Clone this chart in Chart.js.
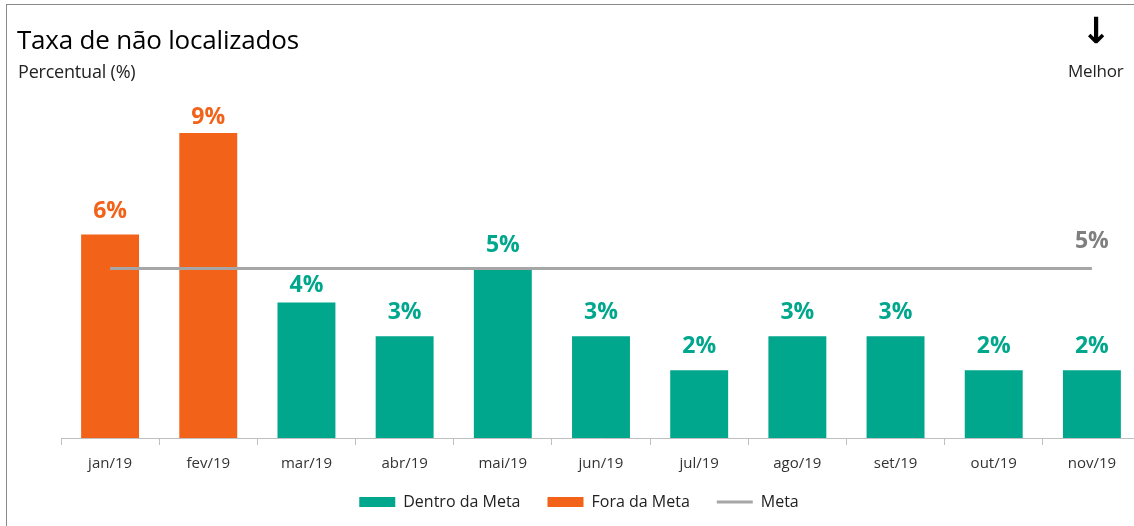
<!DOCTYPE html>
<html>
<head>
<meta charset="utf-8">
<script src="https://cdn.jsdelivr.net/npm/chart.js@4.4.1/dist/chart.umd.min.js"></script>
<style>
  html, body { margin: 0; padding: 0; background: #fff; overflow: hidden; width: 1134px; height: 526px; }
  #wrap { position: relative; width: 1134px; height: 526px; overflow: hidden; }
  #frame { position: absolute; left: 6px; top: 4px; width: 1300px; height: 700px; border: 1px solid #8a8a8a; box-sizing: border-box; }
  canvas { position: absolute; left: 0; top: 0; }
  .txt { position: absolute; font-family: "Open Sans", sans-serif; color: #000; white-space: nowrap; }
  #title { left: 17px; top: 21px; font-size: 26px; letter-spacing: -0.2px; }
  #sub { left: 18px; top: 59px; font-size: 18px; color: #222; letter-spacing: -0.2px; }
  #arrow { left: 1078px; top: 10px; font-size: 36px; width: 36px; text-align: center; font-family: "DejaVu Sans", sans-serif; font-weight: bold; }
  #melhor { left: 1068px; top: 59px; font-size: 17px; color: #222; letter-spacing: -0.2px; }
</style>
</head>
<body>
<div id="wrap">
  <div id="frame"></div>
  <canvas id="c" width="1160" height="526"></canvas>
  <div class="txt" id="title">Taxa de não localizados</div>
  <div class="txt" id="sub">Percentual (%)</div>
  <div class="txt" id="arrow">↓</div>
  <div class="txt" id="melhor">Melhor</div>
</div>
<script>
const categories = ["jan/19","fev/19","mar/19","abr/19","mai/19","jun/19","jul/19","ago/19","set/19","out/19","nov/19"];
const taxa = [6, 9, 4, 3, 5, 3, 2, 3, 3, 2, 2];
const meta = [5, 5, 5, 5, 5, 5, 5, 5, 5, 5, 5];
const legendLabels = ["Dentro da Meta", "Fora da Meta", "Meta"];

const TEAL = "#00A78D";
const ORANGE = "#F26219";
const GREY = "#A6A6A6";
const FONT = '"Open Sans", sans-serif';

const barColors = taxa.map((v, i) => v > meta[i] ? ORANGE : TEAL);

const labelPlugin = {
  id: "valueLabels",
  afterLayout(chart) {
    // centre the legend on the canvas and lift it closer to the axis labels
    if (chart.legend) {
      chart.legend.left -= 22; chart.legend.right -= 22;
      chart.legend.top -= 11; chart.legend.bottom -= 11;
    }
  },
  afterDatasetsDraw(chart) {
    const ctx = chart.ctx;
    const top = chart.chartArea.top;
    const FS = 23, TH = 17;
    ctx.save();
    ctx.textAlign = "center";
    ctx.textBaseline = "alphabetic";
    ctx.font = "bold " + FS + "px " + FONT;
    const line = chart.getDatasetMeta(1).data;
    const bars = chart.getDatasetMeta(0).data;
    bars.forEach((el, i) => {
      ctx.fillStyle = barColors[i];
      let y = Math.max(el.y - 17, top + 25);
      const lineY = line[i].y;
      if (y - TH < lineY + 3 && y > lineY - 3) y = lineY + 6 + TH;
      ctx.fillText(taxa[i] + "%", el.x, y);
    });
    const last = line[line.length - 1];
    ctx.fillStyle = "#7F7F7F";
    ctx.fillText(meta[meta.length - 1] + "%", last.x, last.y - 21);
    ctx.restore();
  }
};

new Chart(document.getElementById("c"), {
  data: {
    labels: categories,
    datasets: [
      {
        type: "bar",
        label: legendLabels[0],
        data: taxa,
        backgroundColor: barColors,
        borderWidth: 0,
        categoryPercentage: 0.59,
        barPercentage: 1.0,
        order: 2
      },
      {
        type: "line",
        label: legendLabels[2],
        data: meta,
        borderColor: GREY,
        borderWidth: 3,
        pointRadius: 0,
        fill: false,
        order: 1
      }
    ]
  },
  plugins: [labelPlugin],
  options: {
    responsive: false,
    animation: false,
    layout: { padding: { left: 61, right: 19, top: 99, bottom: -5 } },
    scales: {
      x: {
        offset: true,
        grid: { display: true, drawOnChartArea: false, drawTicks: true, tickLength: 7, color: "#BFBFBF", offset: true },
        border: { display: true, color: "#BFBFBF", width: 1 },
        ticks: { color: "#333", font: { family: FONT, size: 15 }, padding: 10, maxRotation: 0 },
        afterFit(scale) { scale.height = 40; }
      },
      y: {
        display: false,
        min: 0,
        max: 10
      }
    },
    plugins: {
      tooltip: { enabled: false },
      legend: {
        position: "bottom",
        labels: {
          usePointStyle: true,
          pointStyleWidth: 36,
          boxHeight: 10,
          padding: 27,
          color: "#222",
          font: { family: FONT, size: 16 },
          generateLabels() {
            return [
              { text: legendLabels[0], fillStyle: TEAL, strokeStyle: TEAL, lineWidth: 0, pointStyle: "rect", fontColor: "#222" },
              { text: legendLabels[1], fillStyle: ORANGE, strokeStyle: ORANGE, lineWidth: 0, pointStyle: "rect", fontColor: "#222" },
              { text: legendLabels[2], fillStyle: GREY, strokeStyle: GREY, lineWidth: 3, pointStyle: "line", fontColor: "#222" }
            ];
          }
        }
      }
    }
  }
});
</script>
</body>
</html>
